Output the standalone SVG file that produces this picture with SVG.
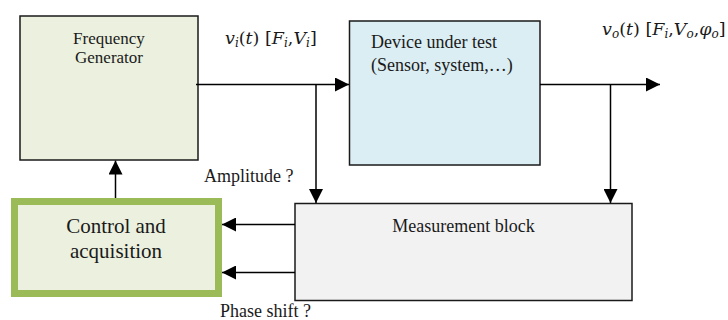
<svg xmlns="http://www.w3.org/2000/svg" width="728" height="320" viewBox="0 0 728 320">
<defs>
<style>
.box{stroke:#1a1a1a;stroke-width:1.5}
.t{font-family:"Liberation Serif","Times New Roman",serif;font-size:18px;fill:#1a1a1a}
.m{font-family:"DejaVu Serif","Liberation Serif",serif;font-size:17.5px;fill:#1a1a1a}
.i{font-style:italic}
.s{font-size:12px;font-style:italic}
.c{stroke:#000;stroke-width:1.5;fill:none}
</style>
<marker id="ah" viewBox="0 0 14 14" refX="14" refY="7" markerWidth="14" markerHeight="14" markerUnits="userSpaceOnUse" orient="auto">
<path d="M0,0 L14,7 L0,14 Z" fill="#000"/>
</marker>
</defs>
<rect width="728" height="320" fill="#fff"/>
<g id="freq-gen">
<rect class="box" x="20" y="16" width="178" height="144" fill="#ebf1de"/>
<text class="t" style="font-size:17px" x="109" y="44" text-anchor="middle">Frequency</text>
<text class="t" style="font-size:17px" x="109" y="63" text-anchor="middle">Generator</text>
</g>
<g id="dut">
<rect class="box" x="349.5" y="21" width="190.5" height="144" fill="#dbeef3"/>
<text class="t" x="371" y="48">Device under test</text>
<text class="t" x="371" y="71">(Sensor, system,…)</text>
</g>
<g id="measure">
<rect class="box" x="295" y="203.5" width="337" height="97" fill="#f2f2f2"/>
<text class="t" x="463.5" y="232" text-anchor="middle">Measurement block</text>
</g>
<g id="control">
<rect x="14.5" y="201.5" width="204" height="92" fill="#ebf1de" stroke="#9bbb59" stroke-width="7"/>
<text class="t" style="font-size:21px" x="116" y="233" text-anchor="middle">Control and</text>
<text class="t" style="font-size:21px" x="116" y="258" text-anchor="middle">acquisition</text>
</g>
<g id="connectors">
<line class="c" x1="196" y1="84.5" x2="349" y2="84.5" marker-end="url(#ah)"/>
<line class="c" x1="316" y1="84.5" x2="316" y2="203" marker-end="url(#ah)"/>
<line class="c" x1="540" y1="84.5" x2="660" y2="84.5" marker-end="url(#ah)"/>
<line class="c" x1="610.5" y1="84.5" x2="610.5" y2="203" marker-end="url(#ah)"/>
<line class="c" x1="115.5" y1="198" x2="115.5" y2="160.5" marker-end="url(#ah)"/>
<line class="c" x1="295" y1="224.5" x2="222" y2="224.5" marker-end="url(#ah)"/>
<line class="c" x1="295" y1="272.5" x2="222" y2="272.5" marker-end="url(#ah)"/>
</g>
<g id="labels">
<text class="m" x="225" y="44"><tspan class="i">v</tspan><tspan class="s" dy="3">i</tspan><tspan dy="-3">(</tspan><tspan class="i">t</tspan>) [<tspan class="i">F</tspan><tspan class="s" dy="3">i</tspan><tspan dy="-3">,</tspan><tspan class="i">V</tspan><tspan class="s" dy="3">i</tspan><tspan dy="-3">]</tspan></text>
<text class="m" x="602" y="35"><tspan class="i">v</tspan><tspan class="s" dy="3">o</tspan><tspan dy="-3">(</tspan><tspan class="i">t</tspan>) [<tspan class="i">F</tspan><tspan class="s" dy="3">i</tspan><tspan dy="-3">,</tspan><tspan class="i">V</tspan><tspan class="s" dy="3">o</tspan><tspan dy="-3">,</tspan><tspan class="i">φ</tspan><tspan class="s" dy="3">o</tspan><tspan dy="-3">]</tspan></text>
<text class="t" x="204" y="182">Amplitude ?</text>
<text class="t" x="220" y="317">Phase shift ?</text>
</g>
</svg>
